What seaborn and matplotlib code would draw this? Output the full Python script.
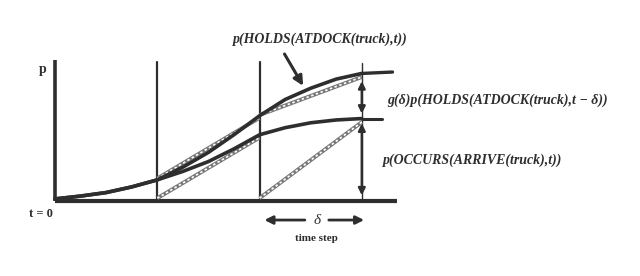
import numpy as np
import pandas as pd
import seaborn as sns
import matplotlib
matplotlib.use('Agg')
import matplotlib.pyplot as plt

# time in units of one step (vertical lines at t = 1, 2, 3)
t_curve = [0, 0.25, 0.5, 0.75, 1.0, 1.25, 1.5, 1.75, 2.0, 2.25, 2.5, 2.75, 3.0]
p_holds = [0.015, 0.035, 0.06, 0.10, 0.15, 0.24, 0.345, 0.47, 0.605, 0.72, 0.80, 0.865, 0.905]
p_occurs = [0.015, 0.035, 0.06, 0.10, 0.15, 0.21, 0.28, 0.37, 0.47, 0.52, 0.555, 0.575, 0.585]

# flat continuation after the last step
t_flat_holds = [3.0, 3.3]
p_flat_holds = [0.905, 0.915]
t_flat_occurs = [3.0, 3.2]
p_flat_occurs = [0.585, 0.585]

# linear ramps within each step (dotted)
ramp_t = [[1, 2], [1, 2], [2, 3], [2, 3]]
ramp_p = [[0.02, 0.45], [0.16, 0.59], [0.02, 0.56], [0.61, 0.88]]

step_times = [1, 2, 3]

title_label = 'p(HOLDS(ATDOCK(truck),t))'
carry_label = 'g(δ)p(HOLDS(ATDOCK(truck),t − δ))'
occurs_label = 'p(OCCURS(ARRIVE(truck),t))'

sns.set_style('white')
plt.rcParams['font.family'] = ['Liberation Serif', 'DejaVu Serif']

fig = plt.figure(figsize=(6.4, 2.76), dpi=100)
ax = fig.add_axes([0, 0, 1, 1])

ink = '#2e2e2e'

# axes of the diagram
ax.plot([0, 0], [0, 1.0], color=ink, lw=2.6, solid_capstyle='butt')
ax.plot([0, 3.34], [0, 0], color=ink, lw=3.0, solid_capstyle='butt')
for s in step_times[:2]:
    ax.plot([s, s], [0, 0.985], color=ink, lw=1.6)
ax.plot([3, 3], [0, 0.98], color=ink, lw=1.0)

# dotted ramps
for tt, pp in zip(ramp_t, ramp_p):
    ax.plot(tt, pp, color='#777777', lw=2.8, solid_capstyle='butt')
    ax.plot(tt, pp, color='white', lw=1.2, linestyle=(0, (1.5, 1.5)))

# smooth curves
df = pd.DataFrame({'t': t_curve + t_curve,
                   'p': p_holds + p_occurs,
                   'series': ['holds'] * len(t_curve) + ['occurs'] * len(t_curve)})
sns.lineplot(data=df, x='t', y='p', units='series', estimator=None,
             color=ink, lw=2.6, ax=ax, legend=False)
sns.lineplot(x=t_flat_holds, y=p_flat_holds, color=ink, lw=2.4, ax=ax)
sns.lineplot(x=t_flat_occurs, y=p_flat_occurs, color=ink, lw=2.2, ax=ax)
ax.set_xlim(-0.538, 5.72)
ax.set_ylim(-0.532, 1.426)
ax.axis('off')

# double arrows at the last step
arrow_kw = dict(arrowstyle='<|-|>', color=ink, lw=1.8, mutation_scale=10)
ax.annotate('', xy=(3, 0.87), xytext=(3, 0.60), arrowprops=arrow_kw)
ax.annotate('', xy=(3, 0.57), xytext=(3, 0.02), arrowprops=arrow_kw)

# time step arrows
ax.annotate('', xy=(2.02, -0.135), xytext=(2.47, -0.135),
            arrowprops=dict(arrowstyle='-|>', color=ink, lw=2.0, mutation_scale=12))
ax.annotate('', xy=(3.05, -0.135), xytext=(2.65, -0.135),
            arrowprops=dict(arrowstyle='-|>', color=ink, lw=2.0, mutation_scale=12))
ax.text(2.56, -0.135, 'δ', ha='center', va='center', fontsize=11,
        style='italic', color=ink)
ax.text(2.56, -0.265, 'time step', ha='center', va='center', fontsize=8,
        fontweight='bold', color=ink)

# labels
ax.text(-0.117, 0.93, 'p', ha='center', va='center', fontsize=10,
        fontweight='bold', color=ink)
ax.text(-0.14, -0.09, 't = 0', ha='center', va='center', fontsize=9,
        fontweight='bold', color=ink)
ax.text(2.59, 1.149, title_label, ha='center', va='center', fontsize=10,
        style='italic', fontweight='bold', color=ink)
ax.annotate('', xy=(2.44, 0.80), xytext=(2.23, 1.06),
            arrowprops=dict(arrowstyle='-|>', color=ink, lw=2.2, mutation_scale=14))
ax.text(3.245, 0.716, carry_label, ha='left', va='center', fontsize=10,
        style='italic', fontweight='bold', color=ink)
ax.text(3.205, 0.29, occurs_label, ha='left', va='center', fontsize=10,
        style='italic', fontweight='bold', color=ink)

fig.savefig('out.png', dpi=100, facecolor='white')
